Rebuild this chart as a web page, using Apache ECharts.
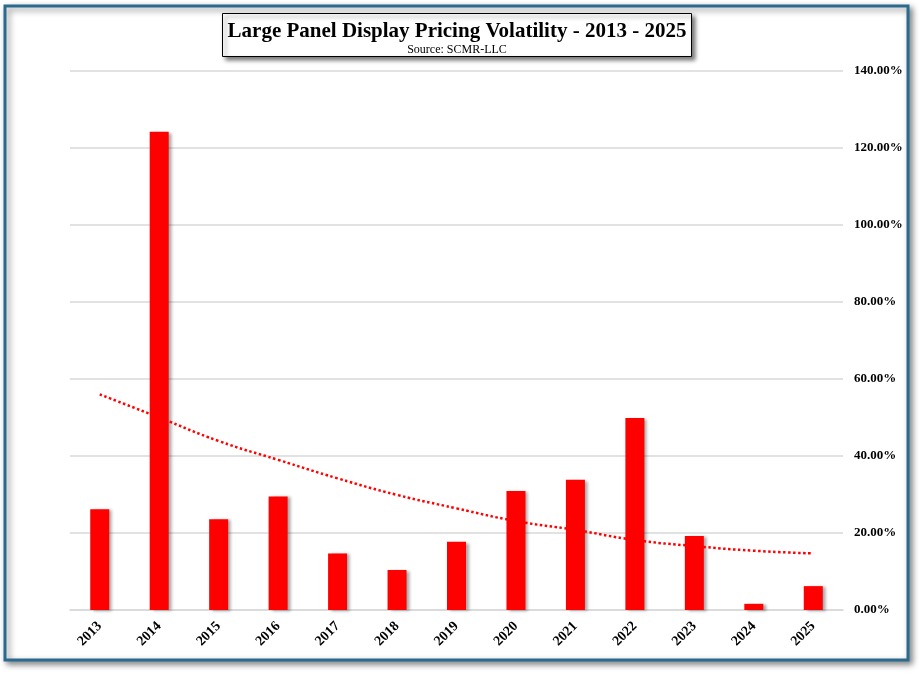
<!DOCTYPE html>
<html>
<head>
<meta charset="utf-8">
<script src="https://cdn.jsdelivr.net/npm/echarts@6/dist/echarts.min.js"></script>
<style>
html,body{margin:0;padding:0;background:#fff;}
#chart{width:921px;height:675px;}
</style>
</head>
<body>
<div id="chart"></div>
<script>
var years = ['2013','2014','2015','2016','2017','2018','2019','2020','2021','2022','2023','2024','2025'];
var volatility = [26.2, 124.2, 23.6, 29.5, 14.7, 10.4, 17.7, 30.9, 33.8, 49.9, 19.2, 1.6, 6.2];
var trend = [56.0, 50.0, 43.9, 39.0, 34.2, 29.9, 26.4, 23.1, 20.8, 18.2, 16.6, 15.4, 14.7];
var yTicks = {min: 0, max: 140, interval: 20};

var serif = '"Liberation Serif", "DejaVu Serif", serif';
var chart = echarts.init(document.getElementById('chart'));
chart.setOption({
  backgroundColor: '#fff',
  animation: false,
  graphic: [{
    type: 'rect',
    z: -10,
    shape: {x: 5, y: 6, width: 903, height: 654},
    style: {fill: '#fff', stroke: '#2b6a8f', lineWidth: 3,
      shadowBlur: 6, shadowOffsetX: 3, shadowOffsetY: 3, shadowColor: 'rgba(0,0,0,0.45)'}
  }],
  title: {
    text: 'Large Panel Display Pricing Volatility - 2013 - 2025',
    subtext: 'Source: SCMR-LLC',
    left: 452,
    top: 13,
    textAlign: 'center',
    padding: [8, 5, 1, 5],
    itemGap: 0,
    backgroundColor: '#fff',
    borderColor: '#000',
    borderWidth: 1,
    shadowBlur: 4,
    shadowOffsetX: 3,
    shadowOffsetY: 3,
    shadowColor: 'rgba(0,0,0,0.5)',
    textStyle: {fontFamily: serif, fontWeight: 'bold', fontSize: 21, color: '#000', lineHeight: 22},
    subtextStyle: {fontFamily: serif, fontSize: 12, color: '#000', lineHeight: 13}
  },
  grid: {left: 70, right: 78, top: 71, bottom: 65},
  xAxis: {
    type: 'category',
    data: years,
    axisLine: {lineStyle: {color: '#d9d9d9', width: 1.5}},
    axisTick: {show: false},
    axisLabel: {rotate: 45, margin: 14, fontFamily: serif, fontWeight: 'bold', fontSize: 14, color: '#000'}
  },
  yAxis: {
    type: 'value',
    position: 'right',
    min: yTicks.min, max: yTicks.max, interval: yTicks.interval,
    axisLine: {show: false},
    axisTick: {show: false},
    splitLine: {lineStyle: {color: '#d9d9d9', width: 1.5}},
    axisLabel: {margin: 11, fontFamily: serif, fontWeight: 'bold', fontSize: 13, color: '#000',
      formatter: function (v) { return v.toFixed(2) + '%'; }}
  },
  series: [{
    type: 'bar',
    data: volatility,
    barWidth: 19,
    itemStyle: {color: '#ff0000', shadowColor: 'rgba(0,0,0,0.35)', shadowBlur: 3, shadowOffsetX: 3, shadowOffsetY: 1}
  }, {
    type: 'line',
    data: trend,
    smooth: true,
    symbol: 'none',
    z: 5,
    lineStyle: {color: '#ff0000', width: 2.5, type: [2.5, 2.5]}
  }]
});
</script>
</body>
</html>
